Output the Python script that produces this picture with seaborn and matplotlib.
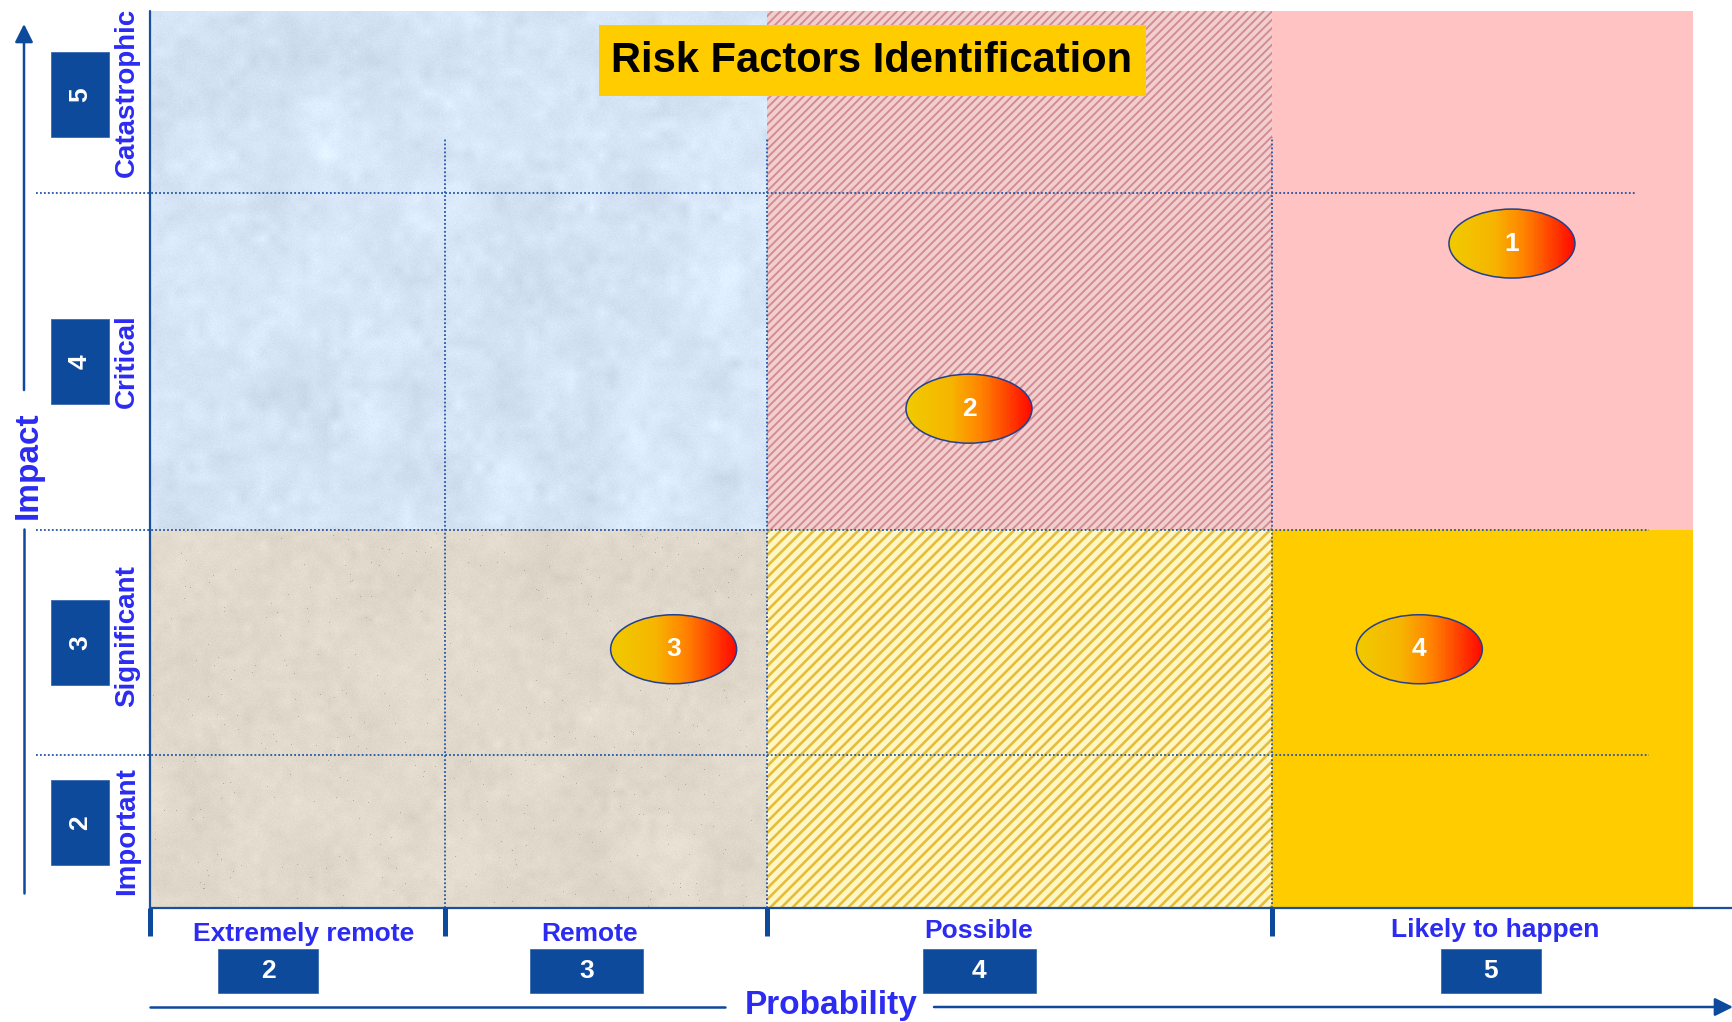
import numpy as np
import matplotlib
matplotlib.use("Agg")
import matplotlib.pyplot as plt
import matplotlib.transforms as mtransforms
from matplotlib.patches import Rectangle, Ellipse
from matplotlib.path import Path
from matplotlib.colors import LinearSegmentedColormap
import seaborn as sns

# ---------------- data ----------------
prob_levels = [2, 3, 4, 5]
prob_names = ["Extremely remote", "Remote", "Possible", "Likely to happen"]
impact_levels = [2, 3, 4, 5]
impact_names = ["Important", "Significant", "Critical", "Catastrophic"]

risk_ids = [1, 2, 3, 4]
risk_prob = [5.07, 3.90, 3.21, 4.85]
risk_impact = [4.35, 3.86, 2.97, 2.97]

# ---------------- layout ----------------
W, H, DPI = 1733, 1022, 100
col_px = [295, 322, 505, 421]          # band widths along probability (px)
row_px = [153, 225, 337, 182]          # band heights along impact, bottom to top (px)
plot_left, plot_top = 150, 11
plot_w, plot_h = sum(col_px), sum(row_px)
plot_bottom = plot_top + plot_h

prob_box_x = [1.90, 2.94, 3.92, 5.02]
prob_box_w = [100, 113, 113, 100]
prob_label_x = [2.02, 2.95, 3.92, 5.03]
prob_label_py = [934, 934, 931, 930]
impact_box_y = [2.06, 3.00, 4.00, 5.04]
impact_label_y = [2.00, 3.03, 4.00, 5.055]

NAVY = "#0E4A9C"
LINE = "#1A4F9E"
DOT = "#2456A4"
LABEL = "#2B2BF2"

sns.set_theme(style="white")
plt.rcParams["font.family"] = ["Liberation Sans", "DejaVu Sans"]
plt.rcParams["font.weight"] = "bold"


def band_scale(levels, sizes):
    edges = np.array([levels[0] - 0.5] + [l + 0.5 for l in levels], float)
    cum = np.concatenate([[0.0], np.cumsum(sizes)]).astype(float)

    def fwd(v):
        v = np.asarray(v, float)
        out = np.interp(v, edges, cum)
        out = np.where(v < edges[0], cum[0] + (v - edges[0]) * sizes[0], out)
        out = np.where(v > edges[-1], cum[-1] + (v - edges[-1]) * sizes[-1], out)
        return out

    def inv(u):
        u = np.asarray(u, float)
        out = np.interp(u, cum, edges)
        out = np.where(u < cum[0], edges[0] + (u - cum[0]) / sizes[0], out)
        out = np.where(u > cum[-1], edges[-1] + (u - cum[-1]) / sizes[-1], out)
        return out

    return fwd, inv


fx_fwd, fx_inv = band_scale(prob_levels, col_px)
fy_fwd, fy_inv = band_scale(impact_levels, row_px)


def fx(v):
    return float(fx_fwd(v)) / plot_w


def fy(v):
    return float(fy_fwd(v)) / plot_h


def ax_px_x(px):
    return (px - plot_left) / plot_w


def ax_px_y(py):
    return (plot_bottom - py) / plot_h


fig = plt.figure(figsize=(W / DPI, H / DPI), dpi=DPI)
fig.patch.set_facecolor("white")
ax = fig.add_axes([plot_left / W, (H - plot_bottom) / H, plot_w / W, plot_h / H])
ax.set_xscale("function", functions=(fx_fwd, fx_inv))
ax.set_yscale("function", functions=(fy_fwd, fy_inv))
ax.set_xlim(1.5, 5.5)
ax.set_ylim(1.5, 5.5)
ax.set_autoscale_on(False)
ax.set_facecolor("white")
for s in ax.spines.values():
    s.set_visible(False)
ax.set_xticks([])
ax.set_yticks([])
ax.set_xlabel("")
ax.set_ylabel("")


def place(x, y, trans):
    return fig.dpi_scale_trans + mtransforms.ScaledTranslation(x, y, trans)


# ---------------- zone backgrounds ----------------
def upsample(a, h, w):
    gh, gw = a.shape
    xi = np.linspace(0, gw - 1, w)
    yi = np.linspace(0, gh - 1, h)
    rows = np.array([np.interp(xi, np.arange(gw), r) for r in a])
    return np.array([np.interp(yi, np.arange(gh), c) for c in rows.T]).T


def paper(h, w, base, amps, seed, speck=0.0):
    rng = np.random.default_rng(seed)
    img = np.zeros((h, w, 3)) + np.array(base, float)
    lum = np.zeros((h, w))
    for cell, amp in amps:
        g = rng.normal(size=(max(h // cell, 2), max(w // cell, 2)))
        lum += amp * upsample(g, h, w)
    img += lum[..., None]
    img += rng.normal(size=(h, w, 1)) * 2.0
    if speck > 0:
        dots = rng.random((h, w)) < speck
        img[dots] -= 45
    return np.clip(img / 255.0, 0, 1)


def textured(x0, x1, y0, y1, base, amps, seed, speck=0.0):
    a0, a1, b0, b1 = fx(x0), fx(x1), fy(y0), fy(y1)
    w = int(round((a1 - a0) * plot_w))
    h = int(round((b1 - b0) * plot_h))
    ax.imshow(paper(h, w, base, amps, seed, speck), extent=[a0, a1, b0, b1],
              transform=ax.transAxes, aspect="auto", interpolation="nearest", zorder=0)


def hatched(x0, x1, y0, y1, face, stripe, pattern, lw):
    with plt.rc_context({"hatch.linewidth": lw}):
        r = Rectangle((x0, y0), x1 - x0, y1 - y0, facecolor=face, edgecolor=stripe,
                      hatch=pattern, linewidth=0, zorder=0)
        if hasattr(r, "set_hatch_linewidth"):
            r.set_hatch_linewidth(lw)
        ax.add_patch(r)


def solid(x0, x1, y0, y1, face):
    ax.add_patch(Rectangle((x0, y0), x1 - x0, y1 - y0, facecolor=face, linewidth=0, zorder=0))


textured(1.5, 3.5, 3.5, 5.5, (214, 230, 247), [(40, 5.0), (10, 3.5)], 7)
hatched(3.5, 4.5, 3.5, 5.5, "#F2CFCF", "#D48B92", "////", 1.4)
solid(4.5, 5.5, 3.5, 5.5, "#FFC3C3")
textured(1.5, 3.5, 1.5, 3.5, (225, 217, 203), [(40, 3.0), (8, 2.5)], 11, speck=0.0015)
hatched(3.5, 4.5, 1.5, 3.5, "#FFF6C4", "#E6BD3A", "///", 1.9)
solid(4.5, 5.5, 1.5, 3.5, "#FFCC00")

# ---------------- dotted grid ----------------
dot_style = dict(color=DOT, lw=1.3, linestyle=(0, (1, 1.2)), clip_on=False, zorder=2)
ytrans = ax.get_yaxis_transform()
ax.plot([ax_px_x(36), ax_px_x(1635)], [4.5, 4.5], transform=ytrans, **dot_style)
ax.plot([ax_px_x(36), ax_px_x(1649)], [3.5, 3.5], transform=ytrans, **dot_style)
ax.plot([ax_px_x(36), ax_px_x(1649)], [2.5, 2.5], transform=ytrans, **dot_style)
for xb, ytop in [(2.5, 4.80), (3.5, 4.80), (4.5, 4.81)]:
    ax.plot([xb, xb], [1.5, ytop], **dot_style)

# ---------------- axis lines and ticks ----------------
ax.plot([0, 0], [0, 1], transform=ax.transAxes, color=LINE, lw=1.6, clip_on=False, zorder=3)
ax.plot([0, ax_px_x(W)], [0, 0], transform=ax.transAxes, color=LINE, lw=1.6,
        clip_on=False, zorder=3)
xtrans = ax.get_xaxis_transform()
for xb in [1.5, 2.5, 3.5, 4.5]:
    ax.plot([xb, xb], [0, ax_px_y(936)], transform=xtrans, color=NAVY, lw=3.6,
            solid_capstyle="butt", clip_on=False, zorder=3)

# ---------------- risk markers ----------------
EW, EH = 126, 69
grad = LinearSegmentedColormap.from_list(
    "risk", [(0.0, "#F0CA00"), (0.35, "#F6B500"), (0.6, "#FF8200"), (1.0, "#FF0A00")])
nstrip = 70
for rp, ri, rid in zip(risk_prob, risk_impact, risk_ids):
    tr = place(rp, ri, ax.transData)
    clip = Ellipse((0, 0), EW / DPI, EH / DPI, transform=tr, facecolor="none",
                   edgecolor="none", zorder=3)
    ax.add_patch(clip)
    dw = EW / DPI / nstrip
    for k in range(nstrip):
        strip = Rectangle((-EW / DPI / 2 + k * dw, -EH / DPI / 2), dw * 1.6, EH / DPI,
                          transform=tr, facecolor=grad(k / (nstrip - 1)), linewidth=0,
                          antialiased=False, zorder=3.5)
        ax.add_patch(strip)
        strip.set_clip_path(clip)
    ax.text(rp, ri, str(rid), color="white", fontsize=19, fontweight="bold",
            ha="center", va="center", zorder=6)

circ = Path.unit_circle()
ell_marker = Path(circ.vertices * np.array([1.0, EH / EW]), circ.codes)
sns.scatterplot(x=risk_prob, y=risk_impact, marker=ell_marker, s=(EW * 72 / DPI) ** 2,
                facecolor="none", edgecolor="#23408E", linewidth=1.1, legend=False,
                ax=ax, zorder=5)
ax.set_xlim(1.5, 5.5)
ax.set_ylim(1.5, 5.5)
ax.set_xlabel("")
ax.set_ylabel("")


# ---------------- badges and labels ----------------
def badge(x, y, trans, w, h, text, rotation=0):
    tr = place(x, y, trans)
    ax.add_patch(Rectangle((-w / DPI / 2, -h / DPI / 2), w / DPI, h / DPI, transform=tr,
                           facecolor=NAVY, edgecolor="#3A6AB0", linewidth=0.6,
                           clip_on=False, zorder=6))
    ax.text(0, 0, text, transform=tr, color="white", fontsize=19, fontweight="bold",
            ha="center", va="center", rotation=rotation, clip_on=False, zorder=7)


for lvl, name, bx, bw, lx, lpy in zip(prob_levels, prob_names, prob_box_x, prob_box_w,
                                      prob_label_x, prob_label_py):
    badge(bx, ax_px_y(971), xtrans, bw, 44, str(lvl))
    ax.text(lx, ax_px_y(lpy), name, transform=xtrans, color=LABEL, fontsize=19,
            fontweight="bold", ha="center", va="center", clip_on=False, zorder=7)

for lvl, name, by, ly in zip(impact_levels, impact_names, impact_box_y, impact_label_y):
    badge(ax_px_x(80), by, ytrans, 58, 85, str(lvl), rotation=90)
    ax.text(ax_px_x(127), ly, name, transform=ytrans, color=LABEL, fontsize=20,
            fontweight="bold", ha="center", va="center", rotation=90, clip_on=False, zorder=7)

# ---------------- axis arrows ----------------
arrow_kw = dict(arrowstyle="-|>,head_length=1.0,head_width=0.5", color=NAVY, lw=1.8,
                shrinkA=0, shrinkB=0, mutation_scale=11)
ax.annotate("", xy=(ax_px_x(24), ax_px_y(24)), xytext=(ax_px_x(24), ax_px_y(390)),
            xycoords="axes fraction", textcoords="axes fraction",
            arrowprops=arrow_kw, annotation_clip=False)
ax.plot([ax_px_x(24)] * 2, [ax_px_y(529), ax_px_y(893)], transform=ax.transAxes,
        color=NAVY, lw=1.8, clip_on=False)
ax.text(ax_px_x(28), ax_px_y(465), "Impact", transform=ax.transAxes, color=LABEL,
        fontsize=24, fontweight="bold", rotation=90, ha="center", va="center", clip_on=False)

ax.plot([ax_px_x(150), ax_px_x(725)], [ax_px_y(1007)] * 2, transform=ax.transAxes,
        color=NAVY, lw=1.8, clip_on=False)
ax.annotate("", xy=(ax_px_x(W), ax_px_y(1007)), xytext=(ax_px_x(934), ax_px_y(1007)),
            xycoords="axes fraction", textcoords="axes fraction",
            arrowprops=arrow_kw, annotation_clip=False)
ax.text(ax_px_x(831), ax_px_y(1005), "Probability", transform=ax.transAxes, color=LABEL,
        fontsize=24, fontweight="bold", ha="center", va="center", clip_on=False)

# ---------------- title ----------------
ax.add_patch(Rectangle((ax_px_x(599), ax_px_y(96)), ax_px_x(1146) - ax_px_x(599),
                       ax_px_y(25) - ax_px_y(96), transform=ax.transAxes,
                       facecolor="#FFCC00", linewidth=0, zorder=6))
ax.text(ax_px_x(872), ax_px_y(61), "Risk Factors Identification", transform=ax.transAxes,
        color="black", fontsize=30, fontweight="bold", ha="center", va="center", zorder=7)

fig.savefig("out.png", dpi=DPI, facecolor="white")
